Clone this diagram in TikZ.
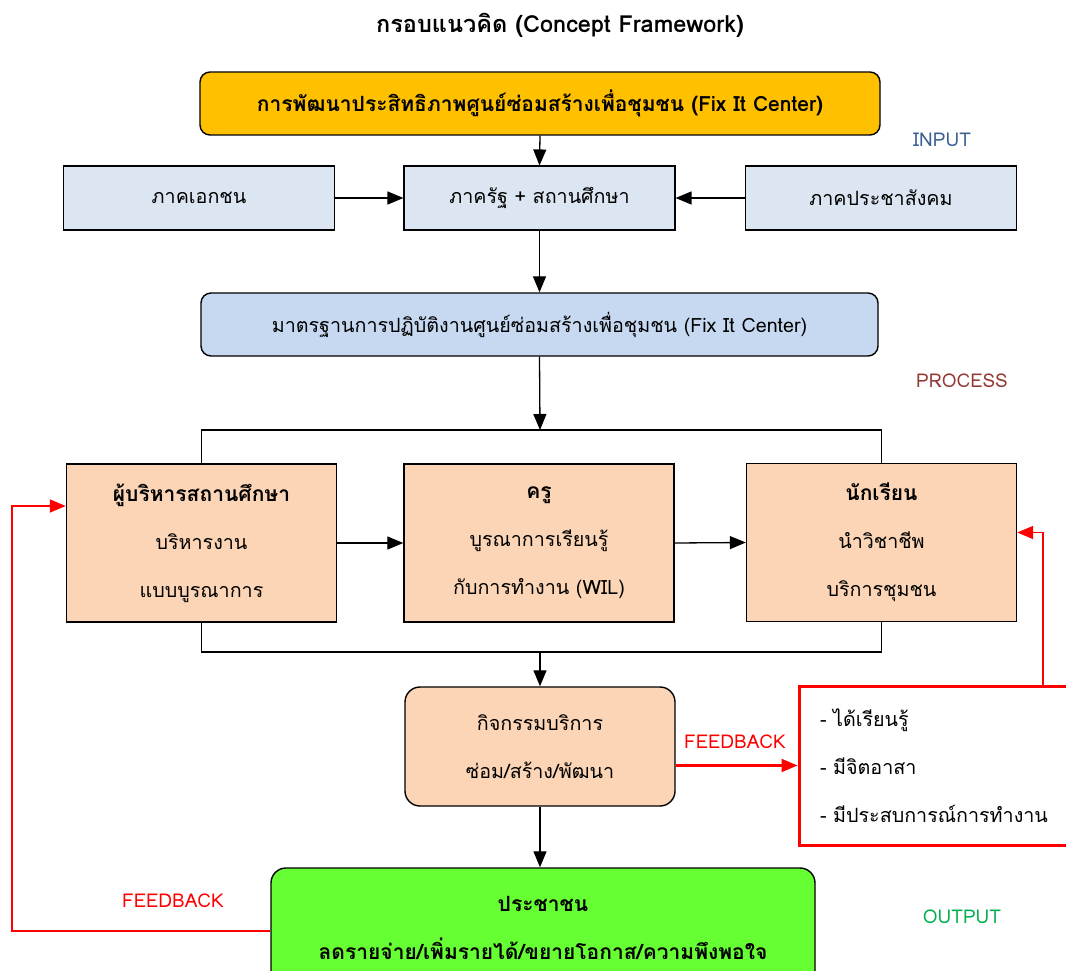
\documentclass[tikz,border=0pt]{standalone}
\usepackage{fontspec}
\setmainfont[Script=Thai]{Loma}
\usetikzlibrary{arrows.meta}

\definecolor{headyellow}{HTML}{FFC000}
\definecolor{inblue}{HTML}{DCE6F2}
\definecolor{stdblue}{HTML}{C6D9F1}
\definecolor{peach}{HTML}{FBD5B5}
\definecolor{outgreen}{HTML}{66FF33}
\definecolor{inputtxt}{HTML}{3B5E91}
\definecolor{proctxt}{HTML}{953735}
\definecolor{outtxt}{HTML}{00B050}

\newcommand{\hd}[1]{{\bfseries\fontsize{21}{48}\selectfont #1}}

\tikzset{
  box/.style={draw=black, line width=1.4pt, align=center, inner sep=0pt,
    font=\fontsize{19.7}{48}\selectfont},
  inbox/.style={box, line width=1.1pt, fill=inblue, minimum width=271pt, minimum height=64pt},
  peachbox/.style={box, fill=peach, minimum width=270pt, minimum height=158pt},
  arr/.style={-{Triangle[length=16pt,width=13pt]}, line width=1.3pt},
  fb/.style={arr, red, line width=1.6pt},
  stage/.style={font=\fontsize{19}{22}\selectfont},
}

\begin{document}
\begin{tikzpicture}[x=1pt,y=-1pt]
  \useasboundingbox (0,0) rectangle (1066,971);
  % title
  \node[font=\bfseries\fontsize{23.5}{26}\selectfont] (title) at (560,25) {กรอบแนวคิด (Concept Framework)};
  % input
  \node[box, fill=headyellow, rounded corners=10pt, minimum width=680pt, minimum height=63pt,
    font=\bfseries\fontsize{21}{24}\selectfont] (head) at (540,103.5)
    {การพัฒนาประสิทธิภาพศูนย์ซ่อมสร้างเพื่อชุมชน (Fix It Center)};
  \node[inbox] (priv) at (199,198) {ภาคเอกชน};
  \node[inbox] (gov) at (539.5,198) {ภาครัฐ + สถานศึกษา};
  \node[inbox] (civ) at (881,198) {ภาคประชาสังคม};
  \node[stage, text=inputtxt] (inlab) at (942,140) {INPUT};
  \draw[arr] (head.south) -- (gov.north);
  \draw[arr] (priv.east) -- (gov.west);
  \draw[arr] (civ.west) -- (gov.east);
  % process
  \node[box, fill=stdblue, rounded corners=10pt, minimum width=677pt, minimum height=63pt] (std) at (539.5,324.5)
    {มาตรฐานการปฏิบัติงานศูนย์ซ่อมสร้างเพื่อชุมชน (Fix It Center)};
  \draw[arr] (gov.south) -- (std.north);
  \node[stage, text=proctxt] (proclab) at (962,381) {PROCESS};
  \node[peachbox] (mgr) at (201.5,543) {\hd{ผู้บริหารสถานศึกษา}\\บริหารงาน\\แบบบูรณาการ};
  \node[peachbox] (tea) at (539,543) {\hd{ครู}\\บูรณาการเรียนรู้\\กับการทำงาน (WIL)};
  \node[peachbox] (stu) at (881.5,542.5) {\hd{นักเรียน}\\นำวิชาชีพ\\บริการชุมชน};
  \coordinate (topmid) at (540,430);
  \coordinate (botmid) at (540,652);
  \draw[arr] (std.south) -- (topmid);
  \draw[line width=1.2pt] (mgr.north) |- (topmid) -| (stu.north);
  \draw[line width=1.2pt] (mgr.south) |- (botmid) -| (stu.south);
  \draw[arr] (mgr.east) -- (tea.west);
  \draw[arr] (tea.east) -- (stu.west);
  \node[box, fill=peach, rounded corners=15pt, minimum width=270pt, minimum height=119pt] (act) at (540,746.5)
    {กิจกรรมบริการ\\ซ่อม/สร้าง/พัฒนา};
  \draw[arr] (botmid) -- (act.north);
  % feedback
  \node[box, draw=red, line width=3pt, fill=white, align=left, text width=234pt, inner xsep=21pt,
    minimum height=159pt] (fbk) at (937,765.5) {- ได้เรียนรู้\\- มีจิตอาสา\\- มีประสบการณ์การทำงาน};
  \draw[fb, line width=2.2pt] (act.east |- fbk.west) -- (fbk.west);
  \node[stage, text=red] (fblab1) at (735,742) {FEEDBACK};
  \draw[fb] ([xshift=106pt]fbk.north) |- ([yshift=10pt]stu.east);
  % output
  \node[box, fill=outgreen, rounded corners=15pt, minimum width=544pt, minimum height=120pt,
    font=\bfseries\fontsize{21}{48}\selectfont] (out) at (543,928)
    {ประชาชน\\ลดรายจ่าย/เพิ่มรายได้/ขยายโอกาส/ความพึงพอใจ};
  \draw[arr] (act.south) -- (act.south |- out.north);
  \node[stage, text=outtxt] (outlab) at (962,917) {OUTPUT};
  \coordinate (fbleft) at (12,0);
  \draw[fb] ([yshift=-3pt]out.west) -- ([yshift=-3pt]out.west -| fbleft) |- ([yshift=37pt]mgr.west);
  \node[stage, text=red] (fblab2) at (173,901) {FEEDBACK};
\end{tikzpicture}
\end{document}
